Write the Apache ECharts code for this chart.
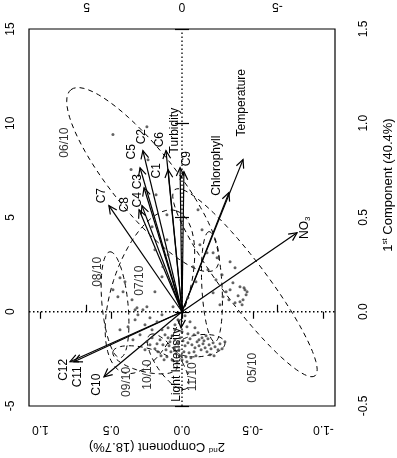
<!DOCTYPE html>
<html>
<head>
<meta charset="utf-8">
<script src="https://cdn.jsdelivr.net/npm/echarts@6/dist/echarts.min.js"></script>
<style>
html, body { margin: 0; padding: 0; background: #fff; }
#chart { width: 397px; height: 458px; }
</style>
</head>
<body>
<div id="chart"></div>
<script>
// === ДАННЫЕ ===
// нагрузки (векторы) в единицах верхней / левой осей
const loadNames = ['Temperature', 'Chlorophyll', 'NO3', 'Turbidity', 'C9', 'C6', 'C1', 'C2', 'C5', 'C3', 'C4', 'C8', 'C7', 'C10', 'C11', 'C12', 'Light Intensity'];
const loadU = [-3.20, -2.46, -6.03, 0.10, -0.10, 0.84, 0.73, 2.05, 2.20, 1.99, 2.10, 2.25, 3.83, 4.09, 5.66, 5.87, 0.05];
const loadV = [8.07, 6.32, 4.19, 7.64, 7.43, 8.55, 7.54, 8.55, 7.64, 6.58, 5.63, 5.41, 5.63, -3.45, -2.65, -2.65, -0.85];
// позиции подписей векторов
const labelU = [-3.15, -1.84, -6.45, 0.37, -0.26, 1.15, 1.31, 2.10, 2.62, 2.31, 2.31, 2.99, 4.20, 4.46, 5.45, 6.19, 0.26];
const labelV = [11.09, 7.75, 4.46, 9.61, 8.12, 9.13, 7.48, 9.29, 8.49, 6.90, 5.94, 5.68, 6.16, -3.87, -3.45, -3.08, -2.81];

// наблюдения
const pointU = [3.62, 1.84, 2.67, 1.78, 1.57, 0.79, 0.79, 0.73, 1.00, -0.84, 1.36, 1.42,
  3.25, 2.99, 3.09, 3.62, 3.36, 2.62, 2.46, 2.05, 1.84, 2.36, 1.42, 1.05, 1.05, 0.47, 2.46, 2.31, 2.83, 1.94, 1.68, 3.25,
  -0.94, -1.31, -1.63, -1.84, -0.58, -1.36, -2.52, -2.78, -2.10, -2.67, -2.52, -3.04, -3.30, -3.41, -3.20, -3.04, -2.78, -3.15, -2.15, -1.63, -1.99, -0.31, -3.36, -3.25, -2.94, -2.46, -2.31, -1.78, -1.05, -0.73,
  0.89, 0.73, 0.63, 0.52, 0.37, 0.21, 0.10, -0.05, -0.16, -0.31, -0.42, -0.52, -0.68, -0.79, -0.89, -1.00, -1.10, -1.21, -1.31, -1.42, -1.52, -1.63, -1.73, -1.89, -1.99,
  1.00, 0.84, 0.68, 0.58, 0.42, 0.31, 0.16, 0.05, -0.10, -0.21, -0.37, -0.47, -0.63, -0.73, -0.89, -1.05, -1.15, -1.26, -1.36,
  1.15, 1.31, 1.42, 1.26, 1.10, 0.94, 0.79, 0.52, 0.26, 0.00, -0.26, 1.68, 1.57, 1.84, 1.94, 1.05, 0.73, 0.37, 0.00, -0.31, -0.63, -0.84, -1.47, -1.68, -2.10, -2.25,
  -0.16, 0.21, 0.37, -0.42, -0.26, -0.68, 2.20, 2.57, 1.57, 1.31];
const pointV = [9.40, 9.82, 7.54, 8.07, 4.51, 5.15, 3.82, 3.03, 2.39, 5.41, 6.21, 3.29,
  1.80, 1.59, 1.06, 1.17, 0.80, 0.64, 0.11, 0.11, 0.27, 0.21, 1.06, 1.86, -0.16, 0.27, -0.42, -0.16, -0.80, -0.69, -0.32, -0.96,
  3.56, 3.13, 3.13, 2.87, 2.39, 2.23, 2.65, 2.34, 1.96, 1.54, 1.17, 1.33, 1.17, 1.06, 0.64, 0.53, 0.48, 0.37, 0.80, 1.01, 0.37, 0.74, 0.90, 1.27, 0.85, 0.64, 1.06, 1.70, 4.35, 1.59,
  -1.22, -1.38, -1.59, -1.27, -1.49, -1.70, -1.38, -1.54, -1.80, -1.65, -1.43, -1.75, -1.91, -1.59, -1.80, -2.02, -1.70, -1.91, -2.12, -1.75, -1.96, -1.65, -1.86, -2.02, -1.70,
  -1.75, -2.02, -1.80, -2.12, -1.91, -2.23, -2.02, -2.34, -2.12, -2.39, -2.18, -2.44, -2.12, -2.34, -1.49, -1.38, -1.54, -1.27, -1.43,
  -1.49, -1.70, -1.96, -2.12, -2.34, -2.55, -2.39, -2.55, -2.65, -2.55, -2.65, -1.75, -1.38, -1.59, -2.02, -0.96, -0.85, -0.96, -1.06, -1.17, -1.22, -1.11, -2.28, -2.34, -1.96, -1.59,
  -0.21, -0.42, -0.69, -0.53, -0.80, -0.85, -1.22, -1.49, -0.96, -0.53];

// эллипсы по месяцам: центр, конец большой полуоси, малая полуось
const ellNames = ['05/10', '06/10', '07/10', '08/10', '09/10', '10/10', '11/10', ''];
const ellCU = [-3.30, 2.05, 1.68, 3.51, 1.94, 0.73, -0.94, -1.57];
const ellCV = [1.54, 7.01, 1.06, 0.37, -2.55, -2.65, -1.80, 1.33];
const ellEU = [-6.97, 5.82, 0.31, 3.78, 3.62, 1.68, -2.25, -1.42];
const ellEV = [-3.40, 11.78, 5.36, 3.18, -2.12, -1.22, -1.65, 4.25];
const ellB = [1.16, 1.68, 2.00, 0.68, 0.63, 0.63, 0.58, 0.53];
const ellLabelU = [-3.72, 6.14, 2.20, 4.40, 2.88, 1.78, -0.58, 0];
const ellLabelV = [-2.97, 8.97, 1.65, 2.12, -3.72, -3.34, -3.45, 0];

// деления осей
const bottomTicks = [-1, -0.5, 0, 0.5, 1];
const topTicks = [-5, 0, 5];
const leftTicks = [-5, 0, 5, 10, 15];
const rightTicks = [-0.5, 0, 0.5, 1, 1.5];

const FONT = 'Liberation Sans, Arial, sans-serif';

// === РЕНДЕРИНГ ===
function axisCommon(ticks, rotate, fmt, margin, vAlign) {
    return {
        type: 'value',
        axisLine: { show: false },
        splitLine: { show: false },
        axisTick: { show: true, customValues: ticks, length: 7, lineStyle: { color: '#000', width: 1.2 } },
        axisLabel: { customValues: ticks, rotate: rotate, margin: margin, formatter: fmt,
            align: 'center', verticalAlign: vAlign,
            fontSize: 12, color: '#000', fontFamily: FONT }
    };
}

function renderEllipse(params, api) {
    const i = api.value(2);
    const cu = ellCU[i], cv = ellCV[i];
    const au = ellEU[i] - cu, av = ellEV[i] - cv;
    const a = Math.hypot(au, av);
    const e1 = [au / a, av / a];
    const e2 = [-e1[1], e1[0]];
    const b = ellB[i];
    const pts = [];
    for (let k = 0; k <= 72; k++) {
        const t = k / 72 * Math.PI * 2;
        const c = Math.cos(t) * a, s = Math.sin(t) * b;
        pts.push(api.coord([cu + c * e1[0] + s * e2[0], cv + c * e1[1] + s * e2[1]]));
    }
    const children = [{
        type: 'polyline', shape: { points: pts },
        style: { stroke: '#000', fill: null, lineWidth: 1, lineDash: [5, 4] }
    }];
    if (ellNames[i]) {
        const lp = api.coord([ellLabelU[i], ellLabelV[i]]);
        children.push({
            type: 'text', x: lp[0], y: lp[1], rotation: Math.PI / 2,
            style: { text: ellNames[i], fontSize: 12, fontFamily: FONT, fill: '#333', align: 'center', verticalAlign: 'middle' }
        });
    }
    return { type: 'group', children: children };
}

function renderArrow(params, api) {
    const i = api.value(4);
    const o = api.coord([0, 0]);
    const t = api.coord([api.value(0), api.value(1)]);
    const l = api.coord([api.value(2), api.value(3)]);
    const dx = t[0] - o[0], dy = t[1] - o[1];
    const len = Math.hypot(dx, dy);
    const ux = dx / len, uy = dy / len;
    const h = 9, ang = Math.PI / 7;
    const ca = Math.cos(ang), sa = Math.sin(ang);
    const p1 = [t[0] - h * (ux * ca - uy * sa), t[1] - h * (uy * ca + ux * sa)];
    const p2 = [t[0] - h * (ux * ca + uy * sa), t[1] - h * (uy * ca - ux * sa)];
    const name = loadNames[i] === 'NO3' ? 'NO{s|3}' : loadNames[i];
    return {
        type: 'group', children: [
            { type: 'line', shape: { x1: o[0], y1: o[1], x2: t[0], y2: t[1] }, style: { stroke: '#000', lineWidth: 1.2 } },
            { type: 'polyline', shape: { points: [p1, t, p2] }, style: { stroke: '#000', fill: null, lineWidth: 1.2 } },
            { type: 'text', x: l[0], y: l[1], rotation: Math.PI / 2,
              style: { text: name, fontSize: 12, fontFamily: FONT, fill: '#000', align: 'center', verticalAlign: 'middle',
                       rich: { s: { fontSize: 8, fontFamily: FONT, verticalAlign: 'bottom', padding: [6, 0, 0, 0] } } } }
        ]
    };
}

const chart = echarts.init(document.getElementById('chart'));
const fmt1 = v => v.toFixed(1);
const fmt0 = v => String(v);

chart.setOption({
    animation: false,
    grid: { show: true, left: 29, top: 29, width: 306, height: 377, borderColor: '#000', borderWidth: 1.2 },
    xAxis: [
        Object.assign(axisCommon(bottomTicks, 180, fmt1, 17, 'bottom'), { position: 'bottom', min: -1.081, max: 1.081, inverse: true }),
        Object.assign(axisCommon(topTicks, 180, fmt0, 17, 'top'), { position: 'top', min: -8.02, max: 8.02, inverse: true })
    ],
    yAxis: [
        Object.assign(axisCommon(leftTicks, 90, fmt0, 12, 'bottom'), { position: 'left', min: -5, max: 15 }),
        Object.assign(axisCommon(rightTicks, 90, fmt1, 23, 'top'), { position: 'right', min: -0.5, max: 1.5 })
    ],
    graphic: [
        { type: 'text', x: 388, y: 185, rotation: Math.PI / 2,
          style: { text: '1{s|st} Component (40.4%)', fontSize: 13, fontFamily: FONT, fill: '#000', align: 'center', verticalAlign: 'middle',
                   rich: { s: { fontSize: 8, fontFamily: FONT, verticalAlign: 'top', padding: [0, 0, 6, 0] } } } },
        { type: 'text', x: 157, y: 447, rotation: Math.PI,
          style: { text: '2{s|nd} Component (18.7%)', fontSize: 13, fontFamily: FONT, fill: '#000', align: 'center', verticalAlign: 'middle',
                   rich: { s: { fontSize: 8, fontFamily: FONT, verticalAlign: 'top', padding: [0, 0, 6, 0] } } } }
    ],
    series: [
        { type: 'line', xAxisIndex: 1, yAxisIndex: 0, symbol: 'none', silent: true,
          data: [[0, -5], [0, 15]], lineStyle: { color: '#000', width: 1.3, type: [1.5, 2.5] } },
        { type: 'line', xAxisIndex: 1, yAxisIndex: 0, symbol: 'none', silent: true,
          data: [[8.02, 0], [-8.02, 0]], lineStyle: { color: '#000', width: 1.3, type: [1.5, 2.5] } },
        { type: 'custom', xAxisIndex: 1, yAxisIndex: 0, renderItem: renderEllipse,
          data: ellNames.map((n, i) => [ellCU[i], ellCV[i], i]) },
        { type: 'scatter', xAxisIndex: 1, yAxisIndex: 0, symbolSize: 3,
          itemStyle: { color: '#3c3c3c' },
          data: pointU.map((u, i) => [u, pointV[i]]) },
        { type: 'custom', xAxisIndex: 1, yAxisIndex: 0, renderItem: renderArrow,
          data: loadNames.map((n, i) => [loadU[i], loadV[i], labelU[i], labelV[i], i]) }
    ]
});
</script>
</body>
</html>
